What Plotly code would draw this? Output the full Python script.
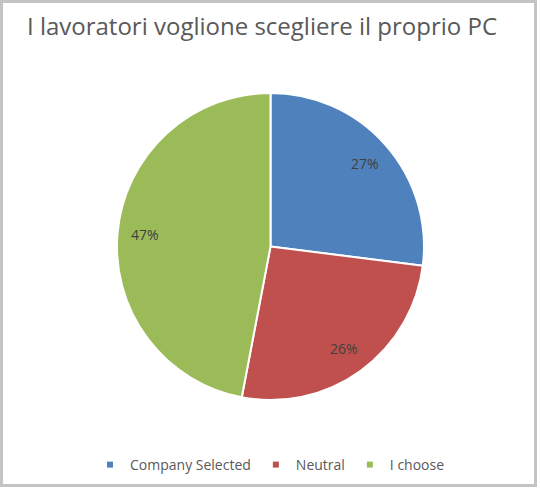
import math
import plotly.graph_objects as go

labels = ["Company Selected", "Neutral", "I choose"]
values = [27, 26, 47]
colors = ["#4F81BD", "#C0504D", "#9BBB59"]

W, H = 540, 491

# pie geometry in pixels (from the reference)
cx, cy, R = 270.5, 246.5, 153.5
label_r = 0.82 * R

fig = go.Figure()

fig.add_trace(
    go.Pie(
        labels=labels,
        values=values,
        sort=False,
        direction="clockwise",
        rotation=0,
        marker=dict(colors=colors, line=dict(color="white", width=2)),
        textinfo="none",
        hoverinfo="label+percent",
        showlegend=False,
        domain=dict(x=[(cx - R) / W, (cx + R) / W], y=[1 - (cy + R) / H, 1 - (cy - R) / H]),
    )
)

# small square legend keys like Excel's
for name, col in zip(labels, colors):
    fig.add_trace(
        go.Scatter(
            x=[None],
            y=[None],
            mode="markers",
            name=name,
            marker=dict(symbol="square", size=6, color=col),
            hoverinfo="skip",
        )
    )

# percent labels placed out toward the rim, like Excel does
total = sum(values)
cum = 0
annotations = []
for v in values:
    mid = (cum + v / 2) / total
    cum += v
    ang = 2 * math.pi * mid
    px = cx + label_r * math.sin(ang)
    py = cy - label_r * math.cos(ang)
    annotations.append(
        dict(
            x=px / W,
            y=1 - py / H,
            xref="paper",
            yref="paper",
            xanchor="center",
            yanchor="middle",
            text=f"{round(100 * v / total)}%",
            showarrow=False,
            font=dict(family="Open Sans", size=14, color="#404040"),
        )
    )

fig.update_layout(
    width=W,
    height=H,
    margin=dict(l=0, r=0, t=0, b=0),
    paper_bgcolor="white",
    plot_bgcolor="white",
    font=dict(family="Open Sans", color="#595959"),
    xaxis=dict(visible=False),
    yaxis=dict(visible=False),
    title=dict(
        text="I lavoratori voglione scegliere il proprio PC",
        x=262 / W,
        xanchor="center",
        y=1 - 27 / H,
        yanchor="middle",
        font=dict(size=24, color="#595959"),
    ),
    legend=dict(
        orientation="h",
        x=0.5,
        xanchor="center",
        y=1 - 465 / H,
        yanchor="middle",
        font=dict(size=14, color="#595959"),
        itemwidth=30,
        itemsizing="trace",
    ),
    annotations=annotations,
    shapes=[
        dict(
            type="rect",
            xref="paper",
            yref="paper",
            x0=1.5 / W,
            x1=535.5 / W,
            y0=1 - 485.5 / H,
            y1=1 - 1.5 / H,
            line=dict(color="#C4C4C4", width=3),
        )
    ],
)

fig.write_html(
    "out.html",
    config={"displayModeBar": False},
    post_script="document.body.style.margin='0';",
)
